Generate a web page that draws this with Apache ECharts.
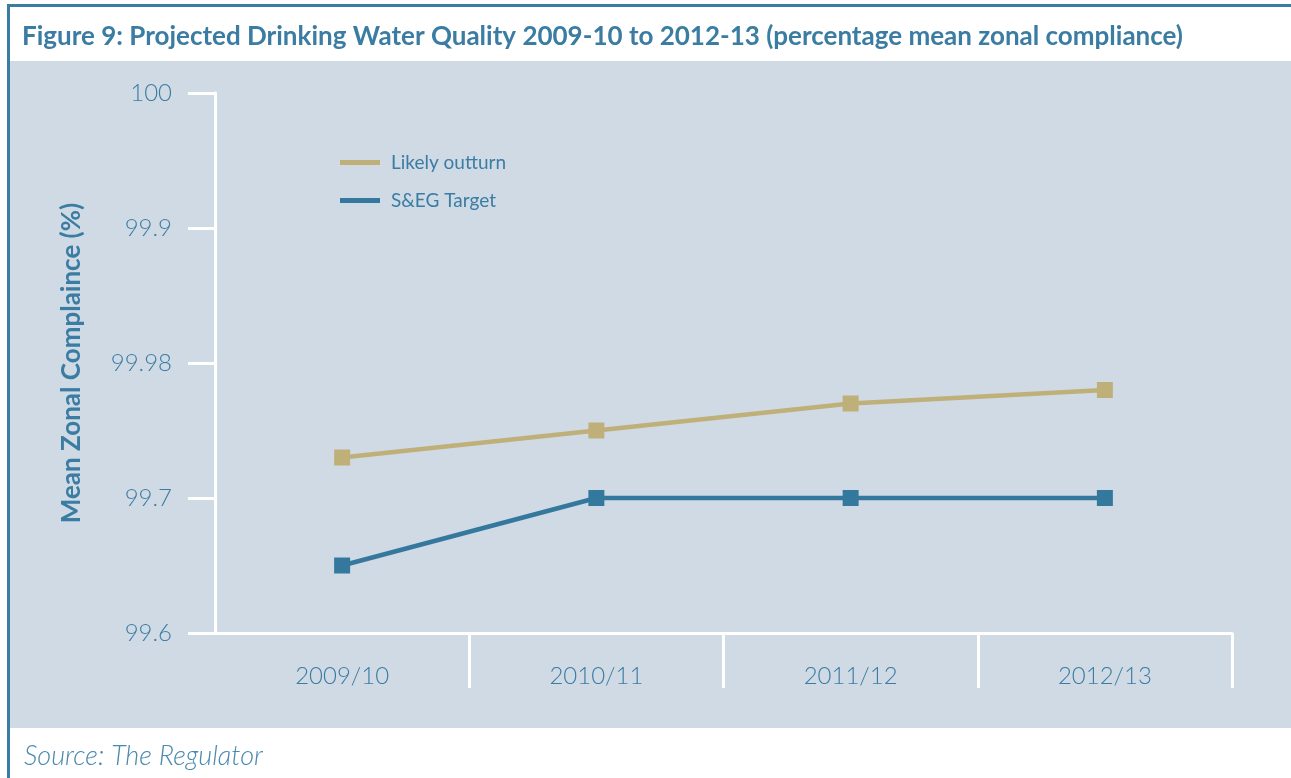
<!DOCTYPE html>
<html>
<head>
<meta charset="utf-8">
<title>Figure 9: Projected Drinking Water Quality</title>
<script src="https://cdn.jsdelivr.net/npm/echarts@6/dist/echarts.min.js"></script>
<style>
  html, body { margin: 0; padding: 0; background: #ffffff; }
  #chart { width: 1291px; height: 778px; }
</style>
</head>
<body>
<div id="chart"></div>
<script>
// Reporting years on the category axis
const years = ['2009/10', '2010/11', '2011/12', '2012/13'];

// Mean zonal compliance (%) per year
const likelyOutturn = [99.73, 99.75, 99.77, 99.78];
const segTarget = [99.65, 99.70, 99.70, 99.70];

// Labels printed at the evenly spaced y-axis ticks (99.6 upwards in 0.1 steps)
const yTickLabels = ['99.6', '99.7', '99.98', '99.9', '100'];

const yMin = 99.6, yMax = 100, yStep = 0.1;

const blue = '#34789e';
const tan = '#bfb07a';
const textBlue = '#3b7ca3';
const panel = '#cfdae5';
const font = 'Lato';

const chart = echarts.init(document.getElementById('chart'), null, { renderer: 'canvas' });

chart.setOption({
  backgroundColor: '#ffffff',
  animation: false,
  graphic: [
    // chart panel
    { type: 'rect', z: -10, shape: { x: 9, y: 61, width: 1282, height: 667 }, style: { fill: panel } },
    // frame: top rule and left rule
    { type: 'rect', z: -5, shape: { x: 7, y: 4, width: 1284, height: 3 }, style: { fill: '#3b7ca3' } },
    { type: 'rect', z: -5, shape: { x: 7, y: 4, width: 3, height: 774 }, style: { fill: '#3b7ca3' } }
  ],
  title: [
    {
      text: 'Figure 9: Projected Drinking Water Quality 2009-10 to 2012-13 (percentage mean zonal compliance)',
      left: 17, top: 19,
      textStyle: { color: textBlue, fontFamily: font, fontWeight: 'bold', fontSize: 26 }
    },
    {
      text: 'Source: The Regulator',
      left: 19, top: 738,
      textStyle: { color: '#4a89ae', fontFamily: font, fontStyle: 'italic', fontWeight: 300, fontSize: 27 }
    }
  ],
  legend: {
    orient: 'vertical',
    left: 335, top: 147,
    itemWidth: 40, itemHeight: 5,
    itemGap: 17,
    icon: 'rect',
    data: ['Likely outturn', 'S&EG Target'],
    textStyle: { color: textBlue, fontFamily: font, fontSize: 19, lineHeight: 21, padding: [0, 0, 0, 6] }
  },
  grid: { left: 215, right: 59, top: 93, bottom: 145, containLabel: false },
  xAxis: {
    type: 'category',
    data: years,
    boundaryGap: true,
    axisLine: { lineStyle: { color: '#ffffff', width: 3 } },
    axisTick: {
      show: true, inside: false, length: 55,
      interval: function (index) { return index !== 0; },
      lineStyle: { color: '#ffffff', width: 3 }
    },
    axisLabel: { color: textBlue, fontFamily: font, fontWeight: 300, fontSize: 24, margin: 31 }
  },
  yAxis: {
    type: 'value',
    min: yMin, max: yMax, interval: yStep,
    name: 'Mean Zonal Complaince (%)',
    nameLocation: 'middle',
    nameGap: 130,
    nameTextStyle: { color: textBlue, fontFamily: font, fontWeight: 'bold', fontSize: 26 },
    axisLine: { show: true, lineStyle: { color: '#ffffff', width: 3 } },
    axisTick: { show: true, inside: false, length: 27, lineStyle: { color: '#ffffff', width: 3 } },
    splitLine: { show: false },
    axisLabel: {
      color: textBlue, fontFamily: font, fontWeight: 300, fontSize: 24, margin: 43,
      formatter: function (v) { return yTickLabels[Math.round((v - yMin) / yStep)]; }
    }
  },
  series: [
    {
      name: 'Likely outturn',
      type: 'line',
      data: likelyOutturn,
      color: tan,
      symbol: 'rect', symbolSize: 16,
      lineStyle: { color: tan, width: 4.5 },
      itemStyle: { color: tan }
    },
    {
      name: 'S&EG Target',
      type: 'line',
      data: segTarget,
      color: blue,
      symbol: 'rect', symbolSize: 16,
      lineStyle: { color: blue, width: 4.5 },
      itemStyle: { color: blue }
    }
  ]
});
</script>
</body>
</html>
